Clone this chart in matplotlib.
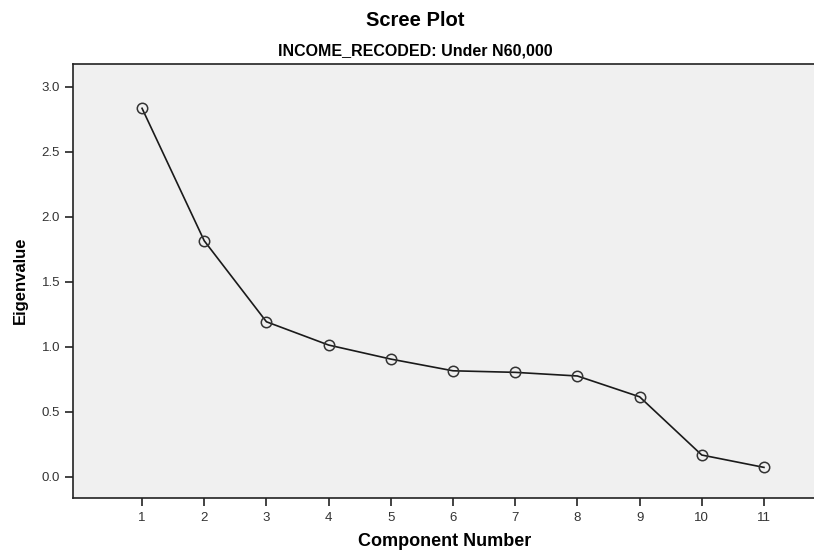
import matplotlib.pyplot as plt

components = [1, 2, 3, 4, 5, 6, 7, 8, 9, 10, 11]
eigenvalues = [2.834, 1.815, 1.192, 1.013, 0.905, 0.815, 0.803, 0.775, 0.615, 0.167, 0.072]

title = "Scree Plot"
subtitle = "INCOME_RECODED: Under N60,000"
xlabel = "Component Number"
ylabel = "Eigenvalue"

plt.rcParams['font.family'] = ['Liberation Sans', 'DejaVu Sans']

fig = plt.figure(figsize=(8.14, 5.51), dpi=100)
ax = fig.add_axes([0.090, 0.0956, 0.915, 0.7883])
ax.set_facecolor('#f0f0f0')

ax.plot(components, eigenvalues, color='#1a1a1a', linewidth=1.2,
        marker='o', markersize=7.5, markerfacecolor='none',
        markeredgecolor='#333333', markeredgewidth=1.1)

ax.set_xlim(-0.106, 11.87)
ax.set_ylim(-0.166, 3.175)
ax.set_xticks(components)
ax.set_yticks([0.0, 0.5, 1.0, 1.5, 2.0, 2.5, 3.0])
ax.set_yticklabels(['0.0', '0.5', '1.0', '1.5', '2.0', '2.5', '3.0'])

for side in ['left', 'bottom', 'top']:
    ax.spines[side].set_color('#222222')
    ax.spines[side].set_linewidth(1.2)
ax.spines['right'].set_visible(False)

ax.tick_params(axis='both', colors='#222222', labelcolor='#333333',
               labelsize=9.5, length=6, width=1.2)

# axis titles placed by hand, like the SPSS output
fig.text(445 / 814, 1 - 546 / 551, xlabel, ha='center', va='baseline',
         fontsize=13, fontweight='bold')
fig.text(20 / 814, 1 - 280 / 551, ylabel, ha='center', va='center',
         rotation=90, fontsize=12, fontweight='bold')

fig.text(415 / 814, 1 - 20 / 551, title, ha='center', va='center', fontsize=14.5, fontweight='bold')
fig.text(415 / 814, 1 - 51.5 / 551, subtitle, ha='center', va='center', fontsize=11.5, fontweight='bold')

plt.savefig('out.png', dpi=100)
